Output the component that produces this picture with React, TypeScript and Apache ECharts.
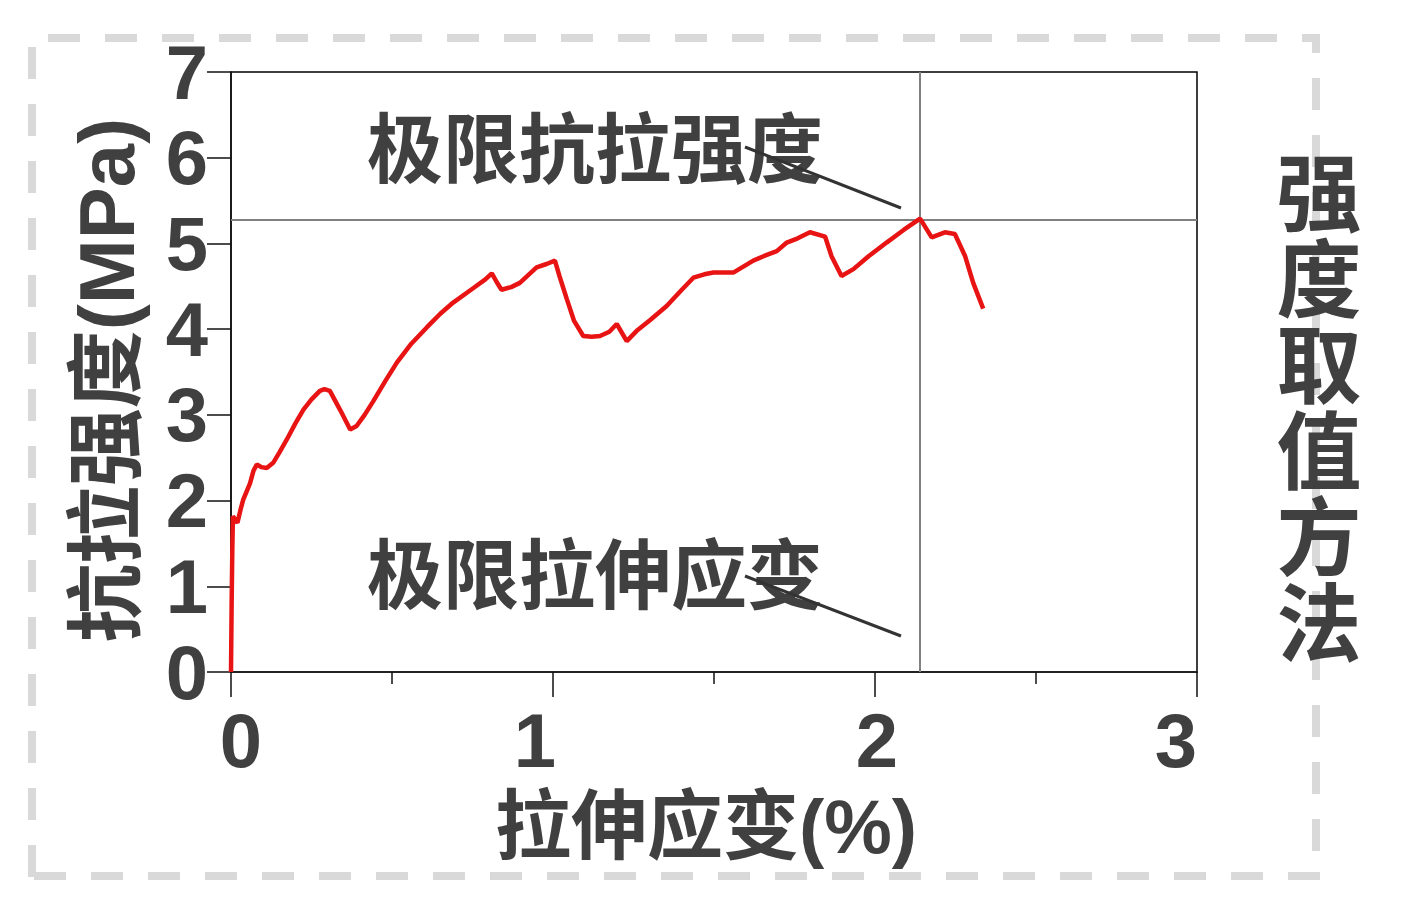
import React, { useEffect, useRef } from "react";
import * as echarts from "echarts";

// strain (%) values
const strain: number[] = [
  0, 0.002, 0.004, 0.006, 0.012, 0.02, 0.03, 0.038, 0.05, 0.059, 0.07, 0.08, 0.095, 0.111, 0.131,
  0.15, 0.173, 0.2, 0.225, 0.25, 0.276, 0.29, 0.307, 0.34, 0.37, 0.39, 0.415, 0.442, 0.48, 0.515,
  0.56, 0.608, 0.65, 0.69, 0.753, 0.79, 0.81, 0.825, 0.84, 0.87, 0.897, 0.949, 0.98, 1.006, 1.02,
  1.043, 1.065, 1.094, 1.12, 1.146, 1.175, 1.198, 1.229, 1.26, 1.3, 1.353, 1.4, 1.436, 1.47, 1.498,
  1.56, 1.622, 1.66, 1.695, 1.726, 1.76, 1.798, 1.845, 1.865, 1.896, 1.933, 1.98, 2.036, 2.09, 2.14,
  2.176, 2.217, 2.248, 2.28, 2.305, 2.336,
];
// tensile strength (MPa) values
const stress: number[] = [
  0, 0.8, 1.4, 1.82, 1.78, 1.74, 1.9, 2.01, 2.12, 2.2, 2.35, 2.42, 2.39, 2.38, 2.44,
  2.56, 2.71, 2.9, 3.06, 3.18, 3.28, 3.3, 3.28, 3.05, 2.83, 2.87, 3.0, 3.16, 3.4, 3.61,
  3.83, 4.02, 4.18, 4.31, 4.48, 4.58, 4.65, 4.55, 4.46, 4.49, 4.54, 4.72, 4.76, 4.8, 4.62,
  4.35, 4.1, 3.92, 3.91, 3.92, 3.97, 4.06, 3.86, 3.98, 4.1, 4.27, 4.46, 4.6, 4.64, 4.66,
  4.66, 4.8, 4.86, 4.91, 5.01, 5.06, 5.13, 5.08, 4.85, 4.62, 4.7, 4.85, 5.01, 5.16, 5.29,
  5.07, 5.13, 5.11, 4.85, 4.54, 4.24,
];
const ultimateStrain = 2.14;
const ultimateStrength = 5.28;
const xTickLabels: string[] = ["0", "1", "2", "3"];
const yTickLabels: string[] = ["0", "1", "2", "3", "4", "5", "6", "7"];
const xTitle = "拉伸应变(%)";
const yTitle = "抗拉强度(MPa)";
const sideTitle = "强度取值方法";
const annoStrength = "极限抗拉强度";
const annoStrain = "极限拉伸应变";

const FONT = '"Liberation Sans", Arial, "Noto Sans CJK SC", sans-serif';
const TXT = "#404040";

export default function App() {
  const ref = useRef<HTMLDivElement>(null);
  useEffect(() => {
    if (!ref.current) return;
    const chart = echarts.init(ref.current, null, { renderer: "svg" });
    const data = strain.map((x, i) => [x, stress[i]]);
    const dashStyle = { stroke: "#d9d9d9", lineWidth: 8, lineDash: [32, 25], lineCap: "butt" };
    const labelBase = { fontSize: 76, fontWeight: "bold", color: TXT, fontFamily: FONT };
    chart.setOption({
      animation: false,
      backgroundColor: "#fff",
      grid: { left: 231, top: 72, right: 220, bottom: 227, show: true, borderColor: "#000", borderWidth: 1.5 },
      xAxis: {
        type: "value",
        min: 0,
        max: 3,
        interval: 1,
        name: xTitle,
        nameLocation: "middle",
        nameGap: 116,
        nameTextStyle: { fontSize: 76, fontWeight: "bold", color: TXT, fontFamily: FONT, padding: [0, 16, 0, 0] },
        axisLine: { lineStyle: { color: "#222", width: 2 } },
        axisTick: { show: true, length: 25, lineStyle: { color: "#111", width: 1.5 } },
        minorTick: { show: true, splitNumber: 2, length: 12, lineStyle: { color: "#111", width: 1.5 } },
        splitLine: { show: false },
        axisLabel: {
          margin: 30,
          formatter: (v: number) => {
            const i = Math.round(v);
            const s = xTickLabels[i] ?? String(v);
            return `{l${i}|${s}}`;
          },
          rich: {
            l0: { ...labelBase, padding: [0, 0, 0, 20] },
            l1: { ...labelBase, padding: [0, 36, 0, 0] },
            l2: { ...labelBase, padding: [0, 0, 0, 4] },
            l3: { ...labelBase, padding: [0, 42, 0, 0] },
          },
        },
      },
      yAxis: {
        type: "value",
        min: 0,
        max: 7,
        interval: 1,
        name: yTitle,
        nameLocation: "middle",
        nameRotate: 90,
        nameGap: 85,
        nameTextStyle: { fontSize: 78, fontWeight: "bold", color: TXT, fontFamily: FONT, padding: [0, 16, 0, 0] },
        axisLine: { show: true, lineStyle: { color: "#111", width: 1.5 } },
        axisTick: { show: true, length: 24, lineStyle: { color: "#111", width: 1.5 } },
        splitLine: { show: false },
        axisLabel: {
          margin: 23,
          formatter: (v: number) => yTickLabels[Math.round(v)] ?? String(v),
          ...labelBase,
        },
      },
      series: [
        {
          type: "line",
          data,
          showSymbol: false,
          symbol: "none",
          lineStyle: { color: "#e81414", width: 4.5 },
          z: 3,
          markLine: {
            silent: true,
            symbol: "none",
            label: { show: false },
            lineStyle: { color: "#808080", width: 2, type: "solid" },
            data: [{ xAxis: ultimateStrain }, { yAxis: ultimateStrength }],
            z: 2,
          },
        },
      ],
      graphic: [
        { type: "line", shape: { x1: 48, y1: 38, x2: 1320, y2: 38 }, style: dashStyle, silent: true },
        { type: "line", shape: { x1: 32, y1: 47, x2: 32, y2: 880 }, style: dashStyle, silent: true },
        { type: "line", shape: { x1: 34, y1: 876, x2: 1320, y2: 876 }, style: dashStyle, silent: true },
        { type: "line", shape: { x1: 1316, y1: 38, x2: 1316, y2: 880 }, style: { ...dashStyle, lineDashOffset: 17 }, silent: true },
        {
          type: "text",
          x: 1319,
          y: 410,
          style: {
            text: sideTitle.split("").join("\n"),
            fontSize: 85,
            lineHeight: 86,
            fontWeight: "bold",
            fill: TXT,
            fontFamily: FONT,
            textAlign: "center",
            textVerticalAlign: "middle",
          },
        },
        {
          type: "text",
          x: 367,
          y: 150,
          style: { text: annoStrength, fontSize: 76, fontWeight: "bold", fill: TXT, fontFamily: FONT, textAlign: "left", textVerticalAlign: "middle" },
        },
        {
          type: "text",
          x: 367,
          y: 576,
          style: { text: annoStrain, fontSize: 76, fontWeight: "bold", fill: TXT, fontFamily: FONT, textAlign: "left", textVerticalAlign: "middle" },
        },
        { type: "line", shape: { x1: 745, y1: 147, x2: 901, y2: 208 }, style: { stroke: "#333", lineWidth: 3 } },
        { type: "line", shape: { x1: 745, y1: 576, x2: 901, y2: 636 }, style: { stroke: "#333", lineWidth: 3 } },
      ],
    });
    return () => chart.dispose();
  }, []);
  return (
    <div
      ref={ref}
      style={{ position: "absolute", left: 0, top: 0, width: 1417, height: 899, background: "#fff" }}
    />
  );
}
